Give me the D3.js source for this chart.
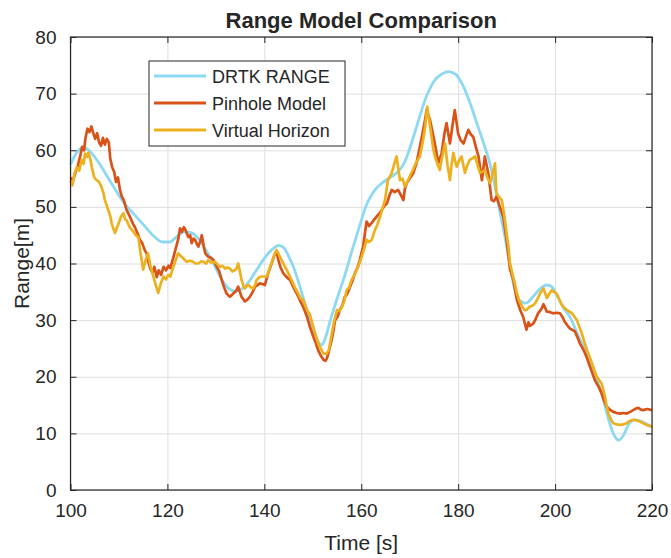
<!DOCTYPE html>
<html>
<head>
<meta charset="utf-8">
<script src="https://cdn.jsdelivr.net/npm/d3@7"></script>
<style>
  body { margin: 0; background: #fff; overflow: hidden; }
  text { font-family: "Liberation Sans", Arial, sans-serif; fill: #262626; }
</style>
</head>
<body>
<svg class="container"></svg>
<script>
// ---- data: [time s, range m] ----
const drtkRange = [
  [100,57.5],[101,59.2],[102,60.2],[103,60.4],[104,59.8],[105,58.8],[106,57.6],[107,56.2],[108,54.8],[109,53.4],
  [110,52.0],[111.5,50.2],[113,48.8],[115,46.9],[117,45.0],[119,43.8],[120.5,43.8],[122,44.8],[123.5,45.6],[125,45.4],
  [126.5,44.3],[128,42.3],[129.5,40.0],[131,37.5],[132.5,35.7],[134,35.1],[135.5,35.6],[137,37.0],[138.5,39.0],[140,40.9],
  [141.5,42.4],[143,43.2],[144,42.8],[145,41.3],[146,39.4],[147,36.9],[148,34.0],[149,31.0],[150,28.5],[151,26.4],
  [151.8,25.6],[152.5,26.6],[153.5,29.6],[155,33.8],[156.5,37.6],[158,42.0],[159.5,46.2],[161,50.2],[162.5,52.6],[164,54.0],
  [166,55.2],[168,56.6],[169,58.0],[170,60.3],[171,63.0],[172,65.8],[173,68.5],[174,70.6],[175,72.2],[176.5,73.4],
  [178,73.9],[179.5,73.4],[181,71.4],[182.5,68.2],[184,64.4],[185.5,60.6],[186.5,57.8],[187.5,54.0],[188.5,49.6],[189.5,45.4],
  [190.5,40.6],[191.5,36.0],[192.5,33.6],[194,33.0],[195.5,34.2],[197,35.6],[198.3,36.2],[199.3,35.9],[200.3,34.5],[201.7,32.2],
  [203,30.7],[204.5,27.8],[206,25.0],[207.2,23.0],[208.6,19.6],[210,15.8],[211,12.6],[212,10.0],[213.2,8.8],[214.2,9.8],
  [215.2,11.6],[216.5,12.4],[217.5,12.2],[219,11.6],[220,11.2]
];

const pinholeRange = [
  [100,55.2],[100.5,54.6],[101,56.0],[101.5,57.2],[102,59.0],[102.4,60.6],[102.8,60.0],[103.1,62.2],[103.5,63.8],[103.9,63.2],
  [104.3,64.2],[104.7,63.0],[105.1,62.0],[105.5,63.0],[105.9,61.4],[106.3,60.8],[106.7,62.2],[107.1,61.0],[107.5,62.0],[107.9,61.4],
  [108.2,58.6],[108.6,57.0],[109,56.2],[109.4,54.4],[109.8,55.2],[110.2,53.0],[110.6,51.8],[111,51.2],[111.5,49.6],[111.9,48.9],
  [112.4,48.0],[112.9,47.0],[113.3,46.4],[113.8,45.4],[114.3,44.2],[114.8,43.6],[115.3,42.4],[115.7,41.8],[116.1,40.2],[116.5,39.0],
  [116.9,38.4],[117.3,39.4],[117.8,37.6],[118.2,38.8],[118.7,38.0],[119.2,39.4],[119.7,38.8],[120.2,39.6],[120.6,39.2],[121.2,41.0],
  [121.7,42.6],[122.2,44.2],[122.6,46.2],[123,45.6],[123.4,46.4],[123.8,45.8],[124.3,44.7],[124.7,45.0],[125,43.6],[125.4,44.4],
  [125.7,44.2],[126.1,43.4],[126.4,43.0],[126.8,44.0],[127.1,45.0],[127.5,43.0],[127.8,41.8],[128.4,41.2],[129,41.0],[129.5,40.6],
  [130.2,39.4],[130.7,38.6],[131.2,37.1],[131.7,35.8],[132.2,34.7],[132.9,34.1],[133.6,34.7],[134.2,35.2],[134.6,35.9],[135.3,34.1],
  [136,33.3],[136.5,33.6],[137,34.1],[137.6,35.0],[138.1,35.9],[139.1,36.5],[140.1,36.2],[140.8,38.3],[141.5,40.0],[142.2,41.8],
  [142.5,42.2],[142.9,40.6],[143.4,39.2],[143.9,38.3],[144.6,37.6],[145.3,37.1],[146,35.8],[146.7,34.7],[147.4,33.4],[148,32.4],
  [148.8,30.6],[149.4,28.8],[150.1,27.1],[150.6,26.0],[151.1,24.7],[151.6,23.8],[152.2,23.0],[152.6,22.8],[152.9,23.2],[153.4,24.8],
  [153.9,26.5],[154.3,28.4],[154.6,30.0],[155.1,30.6],[155.6,31.8],[156.1,32.6],[156.6,34.1],[157.1,34.6],[157.7,35.9],[158.2,37.0],
  [158.7,38.3],[159.2,39.2],[159.7,40.6],[160.1,42.0],[160.4,43.0],[160.8,45.6],[161.1,47.4],[161.6,46.6],[162.2,47.2],[162.7,47.8],
  [163.2,48.3],[163.7,48.8],[164.2,49.4],[164.8,50.2],[165.3,50.6],[165.8,52.0],[166.3,53.0],[166.9,52.6],[167.6,53.0],[168.1,52.2],
  [168.7,51.2],[169,53.2],[169.4,54.2],[170,55.0],[170.7,55.9],[171.4,57.7],[172,60.2],[172.5,62.4],[173,64.6],[173.5,67.1],
  [174.2,65.3],[174.9,62.4],[175.4,60.2],[175.9,57.7],[176.6,59.5],[177.1,62.6],[177.6,64.8],[178.3,61.2],[178.8,64.2],[179.3,67.1],
  [180,62.9],[180.5,61.8],[181.1,61.2],[181.6,62.4],[182.1,63.6],[182.6,62.8],[183.1,62.4],[183.7,60.4],[184.2,58.9],[184.9,54.7],
  [185.5,58.9],[186.2,56.0],[186.9,51.2],[187.4,51.0],[187.9,51.8],[188.6,50.0],[189.3,48.3],[190,44.2],[190.7,39.0],[191.4,37.1],
  [192.1,33.6],[192.8,31.8],[193.4,30.6],[194.1,28.3],[194.5,29.6],[194.8,29.0],[195.5,29.4],[196,30.2],[196.5,31.2],[197.2,32.0],
  [197.6,32.8],[198.3,31.5],[199,31.4],[199.6,31.2],[200.3,31.3],[201,31.2],[201.5,30.6],[202,29.7],[202.6,29.0],[203.1,28.5],
  [204.1,28.0],[204.6,27.0],[205.1,25.9],[205.7,25.0],[206.2,24.1],[206.7,23.0],[207.2,21.8],[207.7,20.6],[208.2,19.4],[209,18.2],
  [209.6,17.1],[210.1,15.8],[210.6,14.8],[211.3,14.2],[212,13.8],[212.7,13.6],[213.4,13.5],[214.1,13.6],[214.8,13.5],[215.5,13.8],
  [216.1,14.1],[216.7,14.4],[217.2,14.5],[217.7,14.2],[218.2,14.1],[219,14.3],[220,14.1]
];

const horizonRange = [
  [100,54.6],[100.4,53.8],[100.8,55.8],[101.3,57.0],[101.8,56.4],[102.3,58.3],[102.7,57.6],[103,59.4],[103.4,58.8],[103.7,59.6],
  [104.1,58.4],[104.4,57.0],[104.9,55.2],[105.4,54.7],[105.9,54.4],[106.4,53.5],[106.8,52.4],[107.1,51.2],[107.5,50.2],[107.8,49.4],
  [108.2,48.4],[108.5,47.1],[108.9,46.0],[109.2,45.4],[109.6,46.4],[109.9,47.0],[110.4,48.2],[110.9,48.9],[111.3,47.8],[111.6,47.6],
  [112,46.8],[112.3,46.3],[112.8,45.8],[113.3,45.2],[113.7,44.8],[114,44.7],[114.4,42.0],[114.7,40.6],[115,38.9],[115.5,40.6],
  [116,41.8],[116.5,39.6],[117.1,37.7],[117.6,36.2],[118.1,34.8],[118.6,36.4],[119.2,37.7],[119.7,37.2],[120.2,38.0],[120.6,37.7],
  [121.2,39.4],[121.7,40.6],[122.2,41.8],[122.9,41.2],[123.4,40.8],[124,40.3],[124.6,40.5],[125.3,40.3],[125.8,40.0],[126.4,40.0],
  [127,40.4],[127.4,40.3],[128,40.0],[128.4,40.6],[129,40.2],[129.8,40.3],[130.4,39.8],[130.9,39.4],[131.4,39.6],[131.9,39.1],
  [132.4,39.3],[132.9,39.1],[133.4,38.6],[133.9,38.8],[134.3,39.2],[134.6,40.0],[135,38.4],[135.3,37.1],[135.7,36.0],[136,35.6],
  [136.4,36.0],[136.7,36.2],[137.2,35.8],[137.7,35.6],[138.1,36.2],[138.4,37.1],[139,37.6],[139.5,37.7],[140.5,37.7],[141.2,39.4],
  [141.7,40.6],[142.2,41.8],[142.5,42.4],[142.9,41.8],[143.2,41.2],[143.8,40.2],[144.3,39.4],[145,38.2],[145.6,37.1],[146.3,35.8],
  [147,34.7],[147.5,33.8],[148,33.6],[148.8,31.8],[149.4,31.0],[150.1,28.8],[150.6,27.4],[151.1,25.9],[151.6,25.0],[152.2,24.1],
  [152.8,24.0],[153.3,24.7],[153.8,27.0],[154.3,29.4],[155,31.8],[155.5,31.6],[156,32.3],[156.5,33.4],[157,35.3],[157.5,35.8],
  [158,37.1],[158.6,38.0],[159.1,38.9],[159.6,40.0],[160.1,41.2],[160.6,42.6],[161.1,44.2],[161.6,43.8],[162.2,44.2],[162.8,45.9],
  [163.3,46.8],[163.9,48.3],[164.4,49.8],[164.9,51.2],[165.5,54.7],[166.3,56.0],[166.8,57.6],[167.3,58.9],[167.6,57.0],[168,54.7],
  [168.5,55.0],[169,53.6],[169.5,54.4],[170.1,55.6],[170.6,56.4],[171.1,57.4],[171.6,58.2],[172.1,58.9],[172.7,61.5],[173.2,64.2],
  [173.6,67.7],[174.1,64.8],[174.5,62.4],[174.9,60.0],[175.2,58.9],[175.7,57.6],[176.2,56.5],[176.7,58.8],[177.3,61.2],[177.8,57.4],
  [178.3,54.7],[178.6,57.2],[179,59.5],[179.4,58.0],[179.7,57.1],[180.2,58.2],[180.7,58.9],[181.1,57.2],[181.4,56.0],[181.9,57.4],
  [182.4,58.3],[183,58.6],[183.5,58.9],[184,57.4],[184.5,56.0],[185,56.2],[185.5,56.5],[186,55.2],[186.6,54.2],[187.1,55.8],
  [187.6,57.7],[187.9,52.4],[188.4,51.8],[189,51.2],[189.5,48.6],[190,45.3],[190.4,42.8],[190.7,40.0],[191.2,38.2],[191.7,36.5],
  [192.1,34.8],[192.5,33.6],[193.2,32.4],[193.7,31.8],[194.1,31.8],[194.8,32.4],[195.4,32.6],[195.9,33.0],[196.4,33.8],[196.9,34.7],
  [197.6,35.6],[198.3,33.9],[198.8,34.6],[199.3,35.3],[199.8,35.0],[200.3,34.7],[200.9,33.6],[201.4,32.7],[201.9,32.2],[202.4,31.8],
  [203,31.5],[203.5,31.2],[204,30.6],[204.5,30.0],[205,28.8],[205.5,27.7],[206,26.2],[206.6,24.7],[207.1,23.6],[207.6,22.4],
  [208.1,21.2],[208.6,20.0],[209.1,19.4],[209.6,18.8],[210.3,16.5],[210.6,15.0],[211,13.5],[211.5,12.5],[212,11.8],[212.7,11.6],
  [213.4,11.5],[214.1,11.6],[214.8,11.8],[215.4,12.2],[216.1,12.4],[216.8,12.3],[217.5,12.1],[218.2,11.8],[218.9,11.5],[219.5,11.3],
  [220,11.2]
];

const seriesNames = ["DRTK RANGE", "Pinhole Model", "Virtual Horizon"];
const seriesColors = ["#8dd9f3", "#d95319", "#edb120"];
const xTicks = [100, 120, 140, 160, 180, 200, 220];
const yTicks = [0, 10, 20, 30, 40, 50, 60, 70, 80];

// ---- layout ----
var width = 671, height = 558;
var margin = {left: 70.5, right: 19, top: 37, bottom: 68};
var innerWidth = width - margin.left - margin.right;
var innerHeight = height - margin.top - margin.bottom;

const svg = d3.select(".container").attr("width", width).attr("height", height)
  .style("display", "block");
const g = svg.append("g").attr("transform", `translate(${margin.left},${margin.top})`);

const xScale = d3.scaleLinear().domain([100, 220]).range([0, innerWidth]);
const yScale = d3.scaleLinear().domain([0, 80]).range([innerHeight, 0]);

// helper: axis with ticks/lines only (no labels)
function bareAxis(sel, color) {
  sel.select(".domain").remove();
  sel.selectAll("text").remove();
  sel.selectAll("line").attr("stroke", color);
}

// grid
g.append("g")
  .call(d3.axisBottom(xScale).tickValues(xTicks).tickSize(innerHeight))
  .call(bareAxis, "#dedede");
g.append("g")
  .call(d3.axisRight(yScale).tickValues(yTicks).tickSize(innerWidth))
  .call(bareAxis, "#dedede");

// lines
const lineGen = d3.line().x(d => xScale(d[0])).y(d => yScale(d[1]));
const smoothLine = d3.line().x(d => xScale(d[0])).y(d => yScale(d[1])).curve(d3.curveMonotoneX);

const allSeries = [drtkRange, pinholeRange, horizonRange];
allSeries.forEach((data, i) => {
  g.append("path")
    .datum(data)
    .attr("fill", "none")
    .attr("stroke", seriesColors[i])
    .attr("stroke-width", i == 0 ? 2.8 : 2.7)
    .attr("stroke-linejoin", "round")
    .attr("d", i == 0 ? smoothLine : lineGen);
});

// axes (ticks point inward, like matlab)
const tickFont = "19px";
const xAxis = g.append("g")
  .attr("transform", `translate(0,${innerHeight})`)
  .call(d3.axisBottom(xScale).tickValues(xTicks).tickSize(-6).tickPadding(14).tickFormat(d3.format("d")));
xAxis.select(".domain").remove();
xAxis.selectAll("line").attr("stroke", "#262626");
xAxis.selectAll("text").style("font-size", tickFont).attr("fill", "#262626");

g.append("g")
  .call(d3.axisTop(xScale).tickValues(xTicks).tickSize(-6))
  .call(bareAxis, "#262626");

const yAxis = g.append("g")
  .call(d3.axisLeft(yScale).tickValues(yTicks).tickSize(-6).tickPadding(14));
yAxis.select(".domain").remove();
yAxis.selectAll("line").attr("stroke", "#262626");
yAxis.selectAll("text").style("font-size", tickFont).attr("fill", "#262626");

g.append("g")
  .attr("transform", `translate(${innerWidth},0)`)
  .call(d3.axisRight(yScale).tickValues(yTicks).tickSize(-6))
  .call(bareAxis, "#262626");

// box
g.append("rect")
  .attr("width", innerWidth).attr("height", innerHeight)
  .attr("fill", "none").attr("stroke", "#262626").attr("stroke-width", 1.2);

// title and labels
svg.append("text")
  .attr("x", margin.left + innerWidth / 2).attr("y", 28)
  .attr("text-anchor", "middle")
  .style("font-size", "22px").style("font-weight", "bold")
  .text("Range Model Comparison");
svg.append("text")
  .attr("x", margin.left + innerWidth / 2).attr("y", 550)
  .attr("text-anchor", "middle")
  .style("font-size", "21px")
  .text("Time [s]");
svg.append("text")
  .attr("transform", `translate(29,${margin.top + innerHeight / 2}) rotate(-90)`)
  .attr("text-anchor", "middle")
  .style("font-size", "21px")
  .text("Range[m]");

// legend
const legend = svg.append("g").attr("transform", "translate(149,61)");
legend.append("rect")
  .attr("width", 196).attr("height", 85)
  .attr("fill", "#fff").attr("stroke", "#262626").attr("stroke-width", 1);
seriesNames.forEach((name, i) => {
  const row = legend.append("g").attr("transform", `translate(0,${15 + i * 27})`);
  row.append("line")
    .attr("x1", 5).attr("x2", 57)
    .attr("stroke", seriesColors[i]).attr("stroke-width", 3);
  row.append("text")
    .attr("x", 63).attr("y", 7)
    .style("font-size", "18px")
    .text(name);
});
</script>
</body>
</html>
